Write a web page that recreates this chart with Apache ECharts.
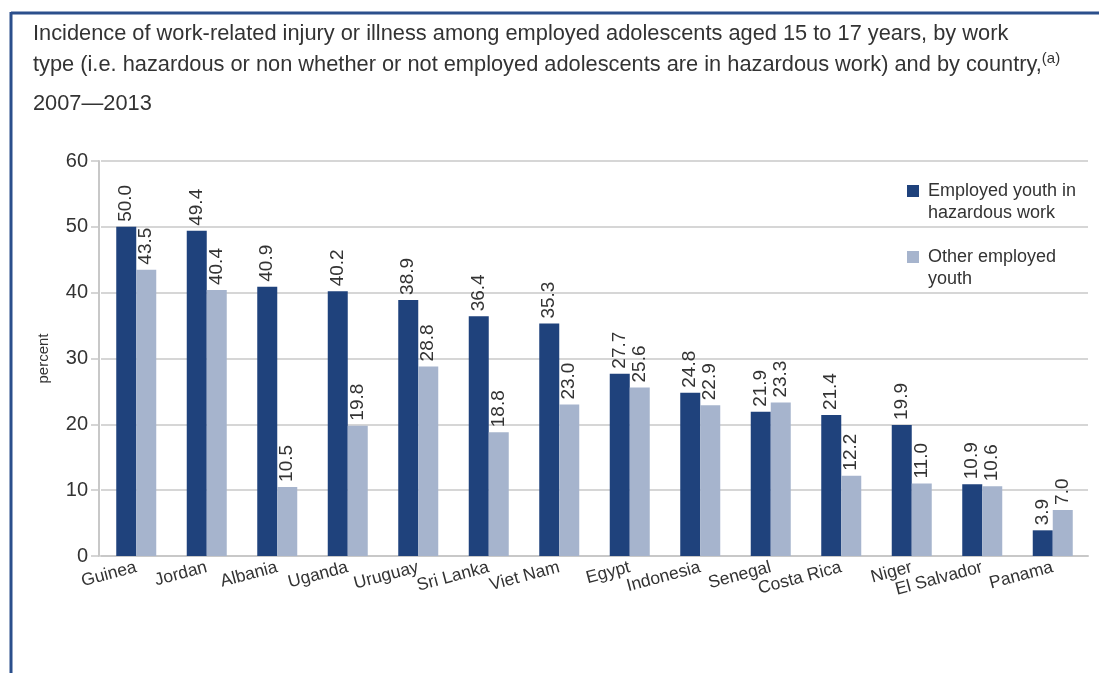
<!DOCTYPE html>
<html>
<head>
<meta charset="utf-8">
<script src="https://cdn.jsdelivr.net/npm/echarts@6/dist/echarts.min.js"></script>
<style>
  html, body { margin: 0; padding: 0; background: #fff; }
  #main { width: 1099px; height: 673px; }
</style>
</head>
<body>
<div id="main"></div>
<script>
// data
var countries = ['Guinea', 'Jordan', 'Albania', 'Uganda', 'Uruguay', 'Sri Lanka', 'Viet Nam',
                 'Egypt', 'Indonesia', 'Senegal', 'Costa Rica', 'Niger', 'El Salvador', 'Panama'];
var hazardous = [50.0, 49.4, 40.9, 40.2, 38.9, 36.4, 35.3, 27.7, 24.8, 21.9, 21.4, 19.9, 10.9, 3.9];
var otherYouth = [43.5, 40.4, 10.5, 19.8, 28.8, 18.8, 23.0, 25.6, 22.9, 23.3, 12.2, 11.0, 10.6, 7.0];
var seriesNames = ['Employed youth in\nhazardous work', 'Other employed\nyouth'];

var fontFam = '"Liberation Sans", Arial, sans-serif';
var txt = '#333333';

var myChart = echarts.init(document.getElementById('main'));

function barLabel() {
    return {
        show: true,
        position: 'top',
        rotate: 90,
        align: 'left',
        verticalAlign: 'middle',
        distance: 5,
        color: txt,
        fontSize: 19,
        fontFamily: fontFam,
        formatter: function (p) { return p.value.toFixed(1); }
    };
}

// square drawn in the upper left part of a larger box so it lines up with the first text line
var legendIcon = 'path://M0,0h12v12h-12z M16,34h0.01v0.01h-0.01z';

var option = {
    backgroundColor: '#fff',
    title: [{
        left: 28, top: 18,
        text: 'Incidence of work-related injury or illness among employed adolescents aged 15 to 17 years, by work',
        textStyle: { color: txt, fontSize: 21.8, fontWeight: 'normal', fontFamily: fontFam }
    }, {
        left: 28, top: 46,
        text: 'type (i.e. hazardous or non whether or not employed adolescents are in hazardous work) and by country,{sup|(a)}',
        textStyle: {
            color: txt, fontSize: 21.8, fontWeight: 'normal', fontFamily: fontFam,
            rich: { sup: { fontSize: 15, color: txt, fontFamily: fontFam, verticalAlign: 'top', padding: [0, 0, 12, 0] } }
        }
    }, {
        left: 28, top: 88,
        text: '2007\u20142013',
        textStyle: { color: txt, fontSize: 21.8, fontWeight: 'normal', fontFamily: fontFam }
    }],
    graphic: [{
        type: 'line',
        shape: { x1: 11, y1: 13, x2: 1099, y2: 13 },
        style: { stroke: '#2b4f8c', lineWidth: 3 }
    }, {
        type: 'line',
        shape: { x1: 11, y1: 12, x2: 11, y2: 673 },
        style: { stroke: '#2b4f8c', lineWidth: 3 }
    }],
    legend: {
        orient: 'vertical',
        left: 907,
        top: 180,
        padding: 0,
        itemWidth: 16,
        itemHeight: 34,
        itemGap: 22,
        icon: legendIcon,
        data: seriesNames,
        textStyle: { color: txt, fontSize: 18, fontFamily: fontFam, lineHeight: 22 }
    },
    grid: { left: 101, right: 11, top: 161, bottom: 117, containLabel: false },
    xAxis: {
        type: 'category',
        data: countries,
        axisTick: { show: false },
        axisLine: { lineStyle: { color: '#c8c8c8', width: 2 } },
        axisLabel: { interval: 0, rotate: 15, margin: 11, color: txt, fontSize: 17.5, fontFamily: fontFam }
    },
    yAxis: {
        type: 'value',
        min: 0, max: 60, interval: 10,
        offset: 2,
        name: 'percent',
        nameLocation: 'middle',
        nameGap: 48,
        nameTextStyle: { color: txt, fontSize: 15, fontFamily: fontFam },
        axisLine: { show: true, lineStyle: { color: '#c8c8c8', width: 2 } },
        axisTick: { show: true, length: 8, lineStyle: { color: '#c8c8c8', width: 1.5 } },
        splitLine: { lineStyle: { color: '#c8c8c8', width: 1.5 } },
        axisLabel: { color: txt, fontSize: 20, fontFamily: fontFam, margin: 11 }
    },
    series: [{
        name: seriesNames[0],
        type: 'bar',
        data: hazardous,
        barWidth: 20,
        barGap: '0%',
        itemStyle: { color: '#1f427c' },
        label: barLabel()
    }, {
        name: seriesNames[1],
        type: 'bar',
        data: otherYouth,
        barWidth: 20,
        itemStyle: { color: '#a6b4cd' },
        label: barLabel()
    }]
};

myChart.setOption(option);
</script>
</body>
</html>
